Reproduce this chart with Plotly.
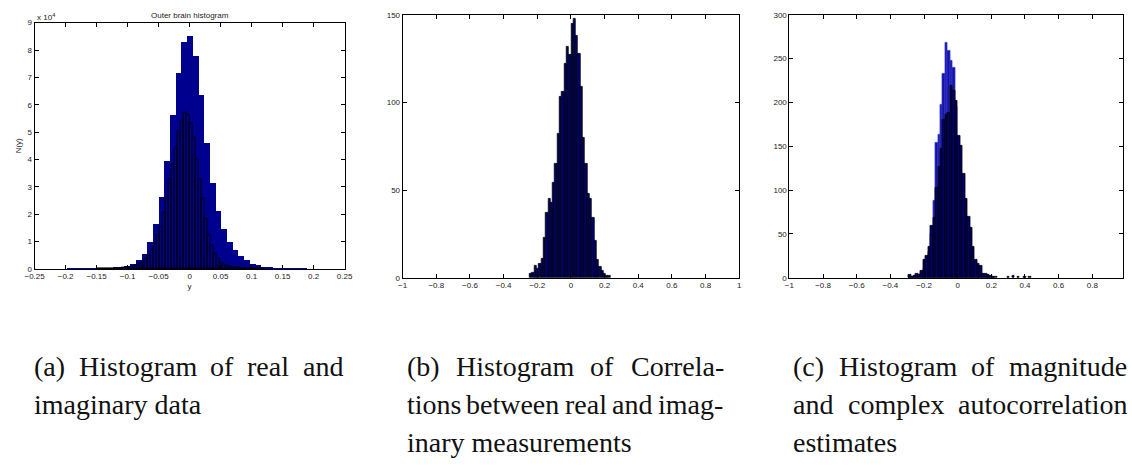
import numpy as np
import plotly.graph_objects as go

# ---------------- data ----------------
# (a) outer brain histogram: wide bins (filled) and narrow bins (outlined)
a_wide_width = 0.0092
a_wide_counts = [40, 50, 60, 70, 80, 90, 100,           # k = -27 .. -21
                 100, 150, 200, 250, 350, 450, 550, 700, 900, 1300, 1900,
                 3300, 5700, 9900, 16500, 26300, 39700, 56200, 71700, 83000,
                 85200,
                 78000, 63600, 46000, 31700, 21300, 14600, 9900, 7200, 4800,
                 3300, 2000, 1400, 1000, 700, 500, 400, 300, 200, 150, 100,
                 80, 60, 40]
a_wide_k0 = -27

a_narrow_width = 0.0048
a_narrow_offset = -0.0022
a_narrow_counts = [50, 60, 80, 100, 120, 150, 180, 220,  # k = -30 .. -23
                   300, 400, 600, 800, 1100, 1500, 2000, 2700, 3600, 5000,
                   6800, 9200, 12000, 15500, 20500, 25500, 32500, 38000, 44000,
                   50000, 54200, 57200,
                   56400, 53000, 48000, 40000, 32500, 25500, 18500, 12500,
                   8500, 5500, 3600, 2400, 1600, 1100, 800, 500, 400, 300, 200,
                   150, 100, 80, 60, 40, 30, 20]
a_narrow_k0 = -30

# (b) correlations between real and imaginary measurements
b_width = 0.0137
b_first_center = -0.238
b_counts = [2, 3, 7, 5, 8, 11, 23, 37, 45, 43, 54, 65, 82, 103, 106, 122,
            132, 127, 145, 148, 138, 128, 109, 80, 65, 48, 45, 34, 21, 10,
            6, 4, 2, 1, 1]

# (c) magnitude and complex autocorrelation estimates
c_width = 0.0146
c_first_center = -0.285
c_mag_counts = [0, 0, 1, 2, 3, 5, 10, 20, 30, 50, 88, 154, 163, 197, 233,
                268, 259, 248, 240, 195, 150, 118, 85, 62, 45, 28, 15, 10, 6,
                3, 2, 1, 1, 0, 0]
c_auto_counts = [3, 1, 2, 4, 3, 8, 20, 25, 35, 59, 68, 103, 126, 147, 180,
                 186, 188, 219, 213, 202, 162, 151, 119, 90, 70, 57, 35, 20,
                 16, 14, 5, 4, 3, 2, 1, 1]
c_tail_centers = [0.30, 0.33, 0.36, 0.40, 0.43]
c_tail_counts = [1, 2, 1, 1, 1]

a_xticks = [-0.25, -0.2, -0.15, -0.1, -0.05, 0, 0.05, 0.1, 0.15, 0.2, 0.25]
a_yticks = list(range(0, 10))
bc_xticks = [-1, -0.8, -0.6, -0.4, -0.2, 0, 0.2, 0.4, 0.6, 0.8, 1]

captions = {
    "a": ["(a) Histogram of real and", "imaginary data"],
    "b": ["(b) Histogram of Correla-", "tions between real and imag-",
          "inary measurements"],
    "c": ["(c) Histogram of magnitude", "and complex autocorrelation",
          "estimates"],
}

# ---------------- layout helpers ----------------
W, H = 1132, 475
NAVY = "#00008f"
DARK = "#000070"


def px_x(p):
    return p / W


def px_y(p):
    return 1 - p / H


def centers(first, width, n):
    return [first + width * i for i in range(n)]


fig = go.Figure()

# panel (a)
a_wide_x = centers(a_wide_k0 * a_wide_width, a_wide_width, len(a_wide_counts))
a_narrow_x = centers(a_narrow_offset + a_narrow_k0 * a_narrow_width,
                     a_narrow_width, len(a_narrow_counts))
fig.add_trace(go.Bar(x=a_wide_x, y=a_wide_counts, width=a_wide_width,
                     marker=dict(color=NAVY, line=dict(color=NAVY, width=0)),
                     xaxis="x", yaxis="y"))
fig.add_trace(go.Bar(x=a_narrow_x, y=a_narrow_counts, width=a_narrow_width,
                     marker=dict(color=NAVY, line=dict(color="black", width=1)),
                     xaxis="x", yaxis="y"))

# panel (b)
b_x = centers(b_first_center, b_width, len(b_counts))
fig.add_trace(go.Bar(x=b_x, y=b_counts, width=b_width,
                     marker=dict(color=DARK, line=dict(color="black", width=0.8)),
                     xaxis="x2", yaxis="y2"))

# panel (c)
c_mag_x = centers(c_first_center, c_width, len(c_mag_counts))
c_auto_x = centers(c_first_center, c_width, len(c_auto_counts))
fig.add_trace(go.Bar(x=c_mag_x, y=c_mag_counts, width=c_width,
                     marker=dict(color="#1212a6", line=dict(color="#3a3acc", width=0.8)),
                     xaxis="x3", yaxis="y3"))
fig.add_trace(go.Bar(x=c_auto_x + c_tail_centers, y=c_auto_counts + c_tail_counts,
                     width=c_width,
                     marker=dict(color=DARK, line=dict(color="black", width=0.8)),
                     xaxis="x3", yaxis="y3"))

tickfont = dict(family="Liberation Sans, Arial, sans-serif", size=8, color="#222")
axis_common = dict(showline=True, linecolor="black", linewidth=1, mirror="ticks",
                   ticks="inside", ticklen=4, tickcolor="black", tickwidth=1,
                   showgrid=False, zeroline=False, tickfont=tickfont,
                   fixedrange=True)

# panel geometry in pixels: left, right, top, bottom
PA = (25, 340, 19, 270)
PB = (399, 741, 11, 279)
PC = (792, 1131, 11, 279)
c_xmax = -1 + 2 * (PC[1] - PC[0]) / 342.0

fig.update_layout(
    width=W, height=H, autosize=False,
    margin=dict(l=0, r=0, t=0, b=0),
    paper_bgcolor="white", plot_bgcolor="white",
    showlegend=False, barmode="overlay", bargap=0,
    xaxis=dict(domain=[px_x(PA[0]), px_x(PA[1])], range=[-0.25, 0.25],
               tickvals=a_xticks, anchor="y", **axis_common,
               title=dict(text="y", font=tickfont, standoff=2)),
    yaxis=dict(domain=[px_y(PA[3]), px_y(PA[2])], range=[0, 90000],
               tickvals=[v * 10000 for v in a_yticks],
               ticktext=[str(v) for v in a_yticks], anchor="x", **axis_common,
               title=dict(text="N(y)", font=tickfont, standoff=4)),
    xaxis2=dict(domain=[px_x(PB[0]), px_x(PB[1])], range=[-1, 1],
                tickvals=bc_xticks, anchor="y2", **axis_common),
    yaxis2=dict(domain=[px_y(PB[3]), px_y(PB[2])], range=[0, 150],
                tickvals=[0, 50, 100, 150], anchor="x2", **axis_common),
    xaxis3=dict(domain=[px_x(PC[0]), px_x(PC[1])], range=[-1, c_xmax],
                tickvals=bc_xticks, anchor="y3", **axis_common),
    yaxis3=dict(domain=[px_y(PC[3]), px_y(PC[2])], range=[0, 300],
                tickvals=[0, 50, 100, 150, 200, 250, 300], anchor="x3",
                **axis_common),
)

annotations = [
    dict(text="Outer brain histogram", x=px_x((PA[0] + PA[1]) / 2), y=px_y(12),
         xref="paper", yref="paper", showarrow=False, xanchor="center",
         yanchor="middle", font=tickfont),
    dict(text="x 10<sup>4</sup>", x=px_x(PA[0]), y=px_y(13), xref="paper",
         yref="paper", showarrow=False, xanchor="left", yanchor="middle",
         font=tickfont),
]

# ---- justified captions (Times-metric advance widths, per 1000 em) ----
ADV = {" ": 250, "(": 333, ")": 333, "-": 333, "a": 444, "b": 500, "c": 444,
       "d": 500, "e": 444, "f": 333, "g": 500, "h": 500, "i": 278, "j": 278,
       "k": 500, "l": 278, "m": 778, "n": 500, "o": 500, "p": 500, "q": 500,
       "r": 333, "s": 389, "t": 278, "u": 500, "v": 500, "w": 722, "x": 500,
       "y": 500, "z": 444, "H": 722, "C": 667}
CAP_SIZE = 28
capfont = dict(family="Liberation Serif, Times New Roman, serif", size=CAP_SIZE,
               color="#111")


def word_width(w):
    return sum(ADV.get(ch, 500) for ch in w) / 1000.0 * CAP_SIZE


cap_span = {"a": (22, 336), "b": (401, 722), "c": (794, 1131)}
line_y = [369, 408, 447]
for key, lines in captions.items():
    left, right = cap_span[key]
    for i, line in enumerate(lines):
        y = px_y(line_y[i])
        last = i == len(lines) - 1
        words = line.split(" ")
        if last or len(words) == 1:
            annotations.append(dict(text=line, x=px_x(left), y=y, xref="paper",
                                    yref="paper", showarrow=False, xanchor="left",
                                    yanchor="middle", font=capfont))
            continue
        widths = [word_width(w) for w in words]
        gap = (right - left - sum(widths)) / (len(words) - 1)
        pos = left
        for w, ww in zip(words, widths):
            annotations.append(dict(text=w, x=px_x(pos), y=y, xref="paper",
                                    yref="paper", showarrow=False, xanchor="left",
                                    yanchor="middle", font=capfont))
            pos += ww + gap

fig.update_layout(annotations=annotations)
fig.write_html("out.html")
